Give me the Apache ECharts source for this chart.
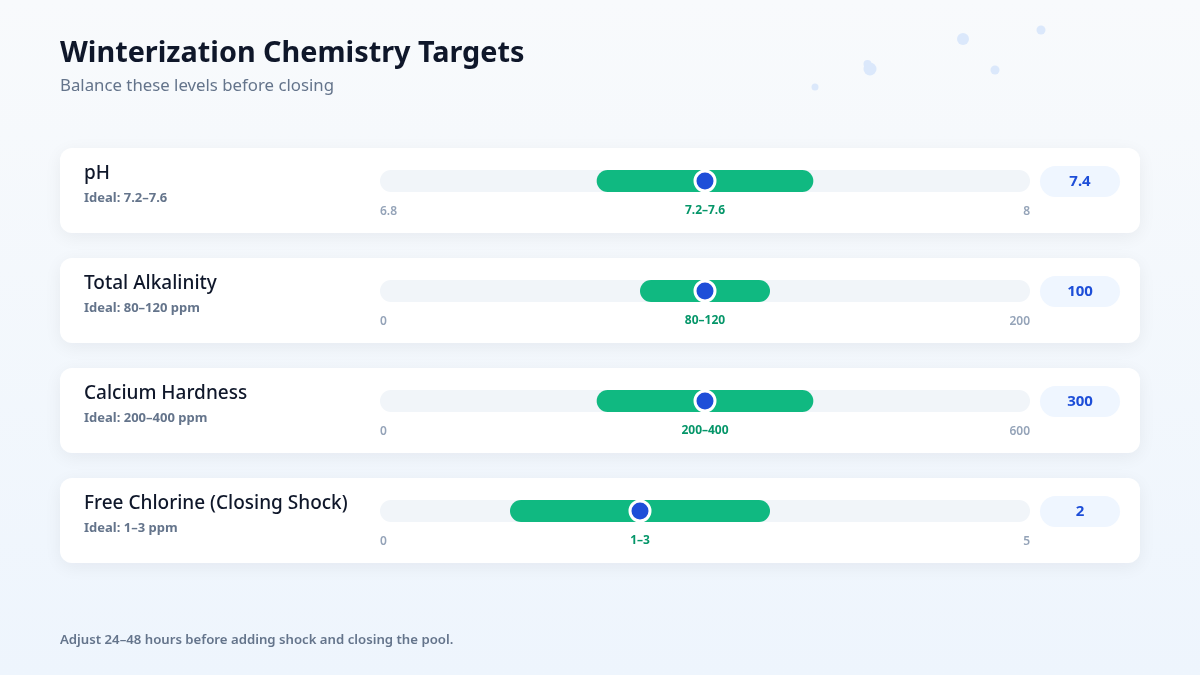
<!DOCTYPE html>
<html><head><meta charset="utf-8">
<script src="https://cdn.jsdelivr.net/npm/echarts@6/dist/echarts.min.js"></script>
<style>html,body{margin:0;padding:0;width:1200px;height:675px;overflow:hidden;}#c{width:1200px;height:675px;}</style>
</head><body><div id="c"></div>
<script>
const metrics = ['pH', 'Total Alkalinity', 'Calcium Hardness', 'Free Chlorine (Closing Shock)'];
const idealLabels = ['Ideal: 7.2–7.6', 'Ideal: 80–120 ppm', 'Ideal: 200–400 ppm', 'Ideal: 1–3 ppm'];
const scaleMin = [6.8, 0, 0, 0];
const scaleMax = [8, 200, 600, 5];
const idealLow = [7.2, 80, 200, 1];
const idealHigh = [7.6, 120, 400, 3];
const currentValues = [7.4, 100, 300, 2];
const rangeLabels = ['7.2–7.6', '80–120', '200–400', '1–3'];
const valueLabels = ['7.4', '100', '300', '2'];

const FONT = '"Noto Sans", "Open Sans", sans-serif';
const chart = echarts.init(document.getElementById('c'), null, {renderer: 'canvas'});

const grids = [], xAxes = [], yAxes = [], series = [];
const graphics = [
  {type: 'rect', z: -10, shape: {x: 0, y: 0, width: 1200, height: 675},
   style: {fill: new echarts.graphic.LinearGradient(0, 0, 0, 1, [
     {offset: 0, color: '#f8fafc'}, {offset: 1, color: '#eef5fd'}])}},
  {type: 'circle', z: -9, shape: {cx: 963, cy: 39, r: 6}, style: {fill: '#dbe8fb'}},
  {type: 'circle', z: -9, shape: {cx: 1041, cy: 30, r: 4.5}, style: {fill: '#dbe8fb'}},
  {type: 'circle', z: -9, shape: {cx: 995, cy: 70, r: 4.5}, style: {fill: '#dbe8fb'}},
  {type: 'circle', z: -9, shape: {cx: 870, cy: 69, r: 6.5}, style: {fill: '#dbe8fb'}},
  {type: 'circle', z: -9, shape: {cx: 867.5, cy: 64, r: 4}, style: {fill: '#dbe8fb'}},
  {type: 'circle', z: -9, shape: {cx: 815, cy: 87, r: 3.5}, style: {fill: '#dbe8fb'}},
  {type: 'text', z: 5, x: 60, y: 54, style: {text: 'Winterization Chemistry Targets', fill: '#0f172a',
    font: 'bold 28.8px ' + FONT, textVerticalAlign: 'middle'}},
  {type: 'text', z: 5, x: 60, y: 86, style: {text: 'Balance these levels before closing', fill: '#64748b',
    font: '16.8px ' + FONT, textVerticalAlign: 'middle'}},
  {type: 'text', z: 5, x: 60, y: 640.5, style: {text: 'Adjust 24–48 hours before adding shock and closing the pool.', fill: '#64748b',
    font: '600 13.2px ' + FONT, textVerticalAlign: 'middle'}}
];

metrics.forEach((m, i) => {
  const top = 170 + 110 * i;
  const cardY = 148 + 110 * i;
  graphics.push(
    {type: 'rect', z: -5, shape: {x: 60, y: cardY, width: 1080, height: 85, r: 12},
     style: {fill: '#ffffff', shadowBlur: 18, shadowOffsetY: 4, shadowColor: 'rgba(15,23,42,0.06)'}},
    {type: 'text', z: 5, x: 84, y: cardY + 25.5, style: {text: m, fill: '#0f172a',
      font: '500 19px ' + FONT, textVerticalAlign: 'middle'}},
    {type: 'text', z: 5, x: 84, y: cardY + 50, style: {text: idealLabels[i], fill: '#64748b',
      font: 'bold 13px ' + FONT, textVerticalAlign: 'middle'}},
    {type: 'rect', z: 4, shape: {x: 1040, y: cardY + 18, width: 80, height: 31, r: 15.5}, style: {fill: '#eff6ff'}},
    {type: 'text', z: 5, x: 1080, y: cardY + 33.5, style: {text: valueLabels[i], fill: '#1d4ed8',
      font: 'bold 15px ' + FONT, textAlign: 'center', textVerticalAlign: 'middle'}}
  );
  grids.push({left: 380, width: 650, top: top, height: 22});
  xAxes.push({gridIndex: i, type: 'value', min: scaleMin[i], max: scaleMax[i],
    axisLine: {show: false}, axisTick: {show: false}, splitLine: {show: false},
    axisLabel: {customValues: [scaleMin[i], scaleMax[i]], alignMinLabel: 'left', alignMaxLabel: 'right',
      margin: 13.5, color: '#94a3b8', fontSize: 12, fontWeight: 600, fontFamily: FONT,
      formatter: v => String(v)}});
  yAxes.push({gridIndex: i, type: 'value', min: 0, max: 1, show: false});
  series.push({
    type: 'custom', xAxisIndex: i, yAxisIndex: i, z: 2, silent: true,
    data: [[scaleMin[i], scaleMax[i]]],
    renderItem: (params, api) => {
      const s = api.coord([api.value(0), 0.5]);
      const e = api.coord([api.value(1), 0.5]);
      const h = api.size([0, 1])[1];
      return {type: 'rect', shape: {x: s[0], y: s[1] - h / 2, width: e[0] - s[0], height: h, r: h / 2},
        style: {fill: '#f1f5f9'}};
    }
  });
  series.push({
    type: 'custom', xAxisIndex: i, yAxisIndex: i, z: 3, silent: true,
    data: [[idealLow[i], idealHigh[i]]],
    renderItem: (params, api) => {
      const s = api.coord([api.value(0), 0.5]);
      const e = api.coord([api.value(1), 0.5]);
      const h = api.size([0, 1])[1];
      return {type: 'group', children: [
        {type: 'rect', shape: {x: s[0], y: s[1] - h / 2, width: e[0] - s[0], height: h, r: h / 2},
          style: {fill: '#10b981'}},
        {type: 'text', style: {text: rangeLabels[i], x: (s[0] + e[0]) / 2, y: s[1] + 29.5,
          align: 'center', verticalAlign: 'middle', fill: '#059669', font: 'bold 12px ' + FONT}}
      ]};
    }
  });
  series.push({
    type: 'scatter', xAxisIndex: i, yAxisIndex: i, z: 4, silent: true,
    data: [[currentValues[i], 0.5]], symbol: 'circle', symbolSize: 20,
    itemStyle: {color: '#1d4ed8', borderColor: '#ffffff', borderWidth: 3, opacity: 1}
  });
});

chart.setOption({
  animation: false,
  grid: grids, xAxis: xAxes, yAxis: yAxes, series: series,
  graphic: {elements: graphics}
});
</script></body></html>
